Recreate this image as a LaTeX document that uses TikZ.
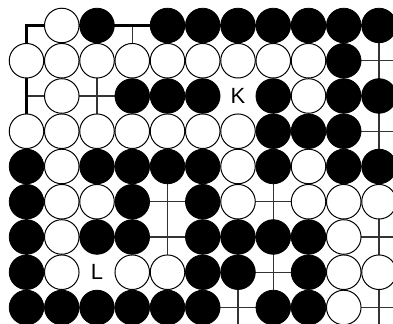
\documentclass[tikz,border=0pt]{standalone}
\usepackage{fontspec}
\setmainfont{Liberation Sans}
\usepackage{tikz}

\tikzset{
  gridline/.style={line width=0.8pt, black!80},
  edgeline/.style={line width=2.3pt, black, line join=miter},
  bstone/.style={fill=black, draw=black, line width=0.6pt},
  wstone/.style={fill=white, draw=black, line width=0.75pt},
  pointlabel/.style={circle, fill=white, minimum size=27pt, inner sep=0pt,
    font=\fontsize{16.5}{18}\selectfont}
}

\begin{document}
\begin{tikzpicture}[x=26.44pt, y=-26.44pt]
\useasboundingbox (0.248,0.277) rectangle (11.397,9.468);
\clip (0.248,0.277) rectangle (11.397,9.468);

% lines of the board
\foreach \r in {2,...,10}
  \draw[gridline] (1,\r) -- (12,\r);
\foreach \c in {2,...,12}
  \draw[gridline] (\c,1) -- (\c,10);
\draw[edgeline] (12,1) -- (1,1) -- (1,10);

% labels (they hide the lines under them)
\node[pointlabel] (K) at (7,3) {K};
\node[pointlabel] (L) at (3,8) {L};

% black stones
\foreach \c/\r in {3/1,5/1,6/1,7/1,8/1,9/1,10/1,11/1,
                   10/2,
                   4/3,5/3,6/3,8/3,10/3,11/3,
                   8/4,9/4,10/4,
                   1/5,3/5,4/5,5/5,6/5,8/5,10/5,11/5,
                   1/6,4/6,6/6,
                   1/7,3/7,4/7,6/7,7/7,8/7,9/7,
                   1/8,6/8,7/8,9/8,
                   1/9,2/9,3/9,4/9,5/9,6/9,8/9,9/9}
  \draw[bstone] (\c,\r) circle (0.49);

% white stones
\foreach \c/\r in {2/1,
                   1/2,2/2,3/2,4/2,5/2,6/2,7/2,8/2,9/2,
                   2/3,9/3,
                   1/4,2/4,3/4,4/4,5/4,6/4,7/4,
                   2/5,7/5,9/5,
                   2/6,3/6,7/6,9/6,10/6,11/6,
                   2/7,10/7,
                   2/8,4/8,5/8,10/8,11/8,
                   10/9}
  \draw[wstone] (\c,\r) circle (0.49);
\end{tikzpicture}
\end{document}
